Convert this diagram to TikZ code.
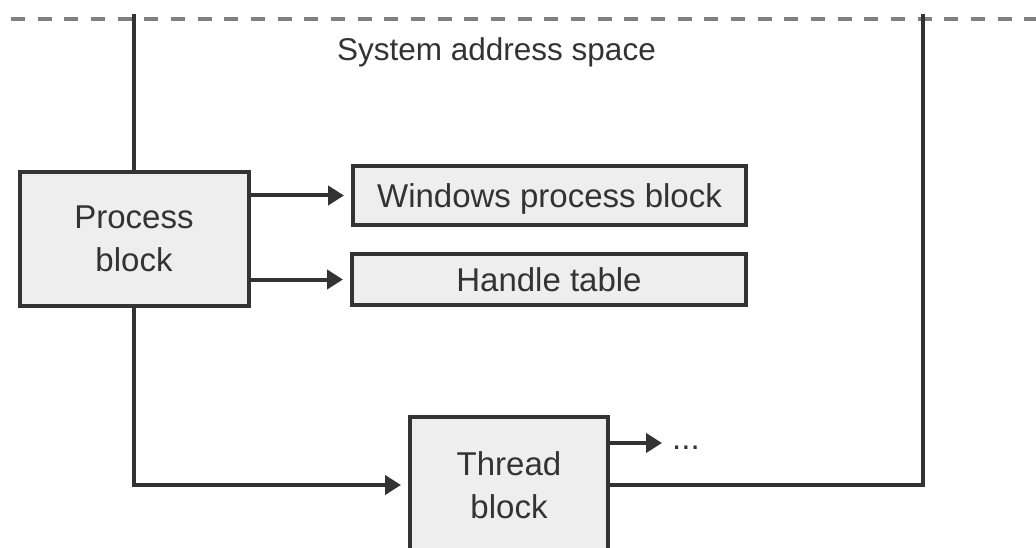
\documentclass[tikz,border=0pt]{standalone}
\usepackage{fontspec}
\setmainfont{Liberation Sans}
\usetikzlibrary{arrows.meta}
\definecolor{ink}{HTML}{333333}
\definecolor{boxfill}{HTML}{EEEEEE}
\definecolor{dashgray}{HTML}{808080}
\begin{document}
\begin{tikzpicture}[x=1pt,y=-1pt,
  blockbox/.style={draw=ink,fill=boxfill,line width=4pt,rectangle,inner sep=0pt,align=center,text=ink,font=\fontsize{33}{43}\selectfont},
  wire/.style={draw=ink,line width=4pt},
  arr/.style={wire,-{Triangle[length=16pt,width=19pt]},shorten >=7pt},
  lbl/.style={text=ink,inner sep=0pt}
]
\useasboundingbox (0,0) rectangle (1036,548);
\begin{scope}
\clip (0,0) rectangle (1036,548);
% system address space boundary
\coordinate (dashL) at (11,19);
\coordinate (dashR) at (1036,19);
\draw[dashgray,line width=4pt,dash pattern=on 14pt off 12.67pt] (dashL) -- (dashR);
\node[lbl,anchor=base,font=\fontsize{31.5}{38}\selectfont] (title) at (496.5,61) {System address space};

% blocks
\node[blockbox,minimum width=229pt,minimum height=134pt] (pb) at (134,239) {Process\\block};
\node[blockbox,text depth=0pt,minimum width=393pt,minimum height=59pt] (wpb) at (549.5,195.5) {Windows process block};
\node[blockbox,minimum width=394pt,minimum height=51pt] (ht) at (549,279.5) {Handle table};
\node[blockbox,minimum width=198pt,minimum height=136pt] (tb) at (509,485) {Thread\\block};
\node[lbl,anchor=west,font=\fontsize{33}{40}\selectfont] (dots) at (672,448) {...};
\coordinate (dotsin) at ([yshift=5pt]dots.west);

\coordinate (ltop) at (134,14);
\coordinate (rtop) at (923,14);

% connectors
\draw[wire] (pb.north) -- (ltop);
\draw[arr] (pb.east |- wpb.west) -- (wpb.west);
\draw[arr] (pb.east |- ht.west) -- (ht.west);
\draw[arr] (pb.south) |- (tb.west);
\draw[arr,shorten >=10pt] (tb.east |- dotsin) -- (dotsin);
\draw[wire] (rtop) |- (tb.east);
\end{scope}
\end{tikzpicture}
\end{document}
